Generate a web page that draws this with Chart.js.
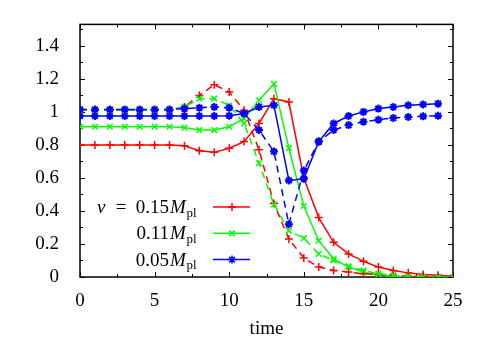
<!DOCTYPE html>
<html>
<head>
<meta charset="utf-8">
<script src="https://cdn.jsdelivr.net/npm/chart.js@4/dist/chart.umd.min.js"></script>
<style>
  html, body { margin: 0; padding: 0; background: #fff; }
</style>
</head>
<body>
<canvas id="myChart" width="491" height="343"></canvas>
<script>
// data
const times = [0,1,2,3,4,5,6,7,8,9,10,11,12,13,14,15,16,17,18,19,20,21,22,23,24,25];

const redSolid   = [0.80,0.80,0.80,0.80,0.80,0.80,0.80,0.795,0.765,0.755,0.78,0.82,0.93,1.08,1.06,0.60,0.36,0.21,0.14,0.095,0.06,0.04,0.025,0.015,0.01,0.005];
const greenSolid = [0.91,0.91,0.91,0.91,0.91,0.91,0.91,0.905,0.89,0.89,0.91,0.96,1.07,1.17,0.78,0.43,0.22,0.11,0.06,0.03,0.01,0.005,0,0,0,0];
const blueSolid  = [0.975,0.975,0.975,0.975,0.975,0.975,0.975,0.975,0.975,0.975,0.977,0.99,1.03,1.04,0.585,0.595,0.82,0.93,0.975,1.0,1.02,1.03,1.04,1.045,1.05];

const redDashed   = [1.01,1.01,1.01,1.01,1.01,1.01,1.01,1.03,1.10,1.165,1.12,1.01,0.77,0.445,0.23,0.115,0.06,0.04,0.03,0.02,0.015,0.01,0.005,0.003,0,0];
const greenDashed = [1.01,1.01,1.01,1.01,1.01,1.01,1.01,1.03,1.08,1.08,1.04,0.93,0.69,0.44,0.28,0.235,0.14,0.10,0.065,0.04,0.02,0.01,0.005,0,0,0];
const blueDashed  = [1.015,1.015,1.015,1.015,1.015,1.015,1.015,1.02,1.025,1.03,1.025,0.99,0.89,0.76,0.32,0.645,0.82,0.89,0.92,0.94,0.953,0.963,0.969,0.973,0.977];

const speeds = ['0.15', '0.11', '0.05'];
const xTicks = [0, 5, 10, 15, 20, 25];
const yTicks = [0, 0.2, 0.4, 0.6, 0.8, 1, 1.2, 1.4];

const RED = '#ff0000', GREEN = '#00ff00', BLUE = '#0000ff';
const SERIF = '"Liberation Serif", "DejaVu Serif", serif';
const FS = 19;

const pts = arr => arr.map((y, i) => ({ x: times[i], y: y }));

const series = (arr, color, style, dashed, order) => ({
  data: pts(arr),
  borderColor: color,
  backgroundColor: color,
  borderWidth: 1.5,
  borderDash: dashed ? [7, 5] : [],
  pointStyle: style,
  pointRadius: 4,
  pointBorderWidth: style === 'star' ? 2 : 1.5,
  pointBorderColor: color,
  pointBackgroundColor: color,
  tension: 0,
  order: order
});

// box with inward ticks on all four sides
const frame = {
  id: 'frame',
  beforeDatasetsDraw(chart) {
    const { ctx, chartArea: a, scales: { x, y } } = chart;
    ctx.save();
    ctx.strokeStyle = '#000';
    ctx.lineWidth = 1;
    ctx.beginPath();
    for (let v = 0; v <= 25; v += 2.5) {
      const px = Math.round(x.getPixelForValue(v)) + 0.5;
      const len = v % 5 === 0 ? 5 : 3;
      ctx.moveTo(px, a.bottom); ctx.lineTo(px, a.bottom - len);
      ctx.moveTo(px, a.top); ctx.lineTo(px, a.top + len);
    }
    for (let k = 0; k <= 15; k++) {
      const py = Math.round(y.getPixelForValue(k / 10)) + 0.5;
      const len = k % 2 === 0 ? 5 : 3;
      ctx.moveTo(a.left, py); ctx.lineTo(a.left + len, py);
      ctx.moveTo(a.right, py); ctx.lineTo(a.right - len, py);
    }
    ctx.stroke();
    ctx.lineWidth = 1.5;
    ctx.strokeRect(a.left, a.top, a.right - a.left, a.bottom - a.top);
    ctx.restore();
  }
};

// legend: v = 0.15 M_pl etc, sample line with marker
const keyBox = {
  id: 'keyBox',
  afterDatasetsDraw(chart) {
    const ctx = chart.ctx;
    const colors = [RED, GREEN, BLUE];
    const styles = ['cross', 'crossRot', 'star'];
    const lineY0 = 207, step = 26.3;
    const mX = 170, plX = 186.5;
    ctx.save();
    ctx.textBaseline = 'alphabetic';
    speeds.forEach((s, i) => {
      const ly = lineY0 + i * step;
      const base = ly + 6;
      ctx.fillStyle = '#000';
      ctx.font = FS + 'px ' + SERIF;
      ctx.textAlign = 'right';
      ctx.fillText(s, mX - 1, base);
      if (i === 0) {
        ctx.textAlign = 'center';
        ctx.fillText('=', 121, base);
        ctx.textAlign = 'left';
        ctx.font = 'italic ' + FS + 'px ' + SERIF;
        ctx.fillText('v', 97, base);
      }
      ctx.textAlign = 'left';
      ctx.font = 'italic ' + FS + 'px ' + SERIF;
      ctx.fillText('M', mX, base);
      ctx.font = '13px ' + SERIF;
      ctx.fillText('pl', plX, base + 3.5);

      ctx.strokeStyle = colors[i];
      ctx.fillStyle = colors[i];
      ctx.lineWidth = 1.5;
      ctx.beginPath();
      ctx.moveTo(213, ly); ctx.lineTo(250, ly);
      ctx.stroke();
      Chart.helpers.drawPoint(ctx, { pointStyle: styles[i], radius: 4, rotation: 0, borderWidth: i === 2 ? 2 : 1.5 }, 232, ly);
    });
    ctx.restore();
  }
};

const ctx = document.getElementById('myChart');

new Chart(ctx, {
  type: 'line',
  data: {
    datasets: [
      series(redSolid, RED, 'cross', false, 5),
      series(greenSolid, GREEN, 'crossRot', false, 4),
      series(blueSolid, BLUE, 'star', false, 3),
      series(redDashed, RED, 'cross', true, 2),
      series(greenDashed, GREEN, 'crossRot', true, 1),
      series(blueDashed, BLUE, 'star', true, 0)
    ]
  },
  options: {
    responsive: false,
    animation: false,
    devicePixelRatio: 1,
    layout: { padding: { left: 0, right: 38, top: 20, bottom: 0 } },
    plugins: {
      legend: { display: false },
      tooltip: { enabled: false }
    },
    scales: {
      x: {
        type: 'linear',
        min: 0,
        max: 25,
        afterBuildTicks: s => { s.ticks = xTicks.map(v => ({ value: v })); },
        afterFit: s => { s.height = 66; },
        grid: { display: false },
        border: { display: false },
        ticks: { padding: 5, color: '#000', font: { family: SERIF, size: FS }, maxRotation: 0, autoSkip: false },
        title: { display: true, text: 'time', color: '#000', font: { family: SERIF, size: FS }, padding: { top: 0, bottom: 3 } }
      },
      y: {
        type: 'linear',
        min: 0,
        max: 1.53,
        afterBuildTicks: s => { s.ticks = yTicks.map(v => ({ value: v })); },
        afterFit: s => { s.width = 80; },
        grid: { display: false },
        border: { display: false },
        ticks: { padding: 13, color: '#000', font: { family: SERIF, size: FS }, callback: v => String(v) }
      }
    }
  },
  plugins: [frame, keyBox]
});
</script>
</body>
</html>
